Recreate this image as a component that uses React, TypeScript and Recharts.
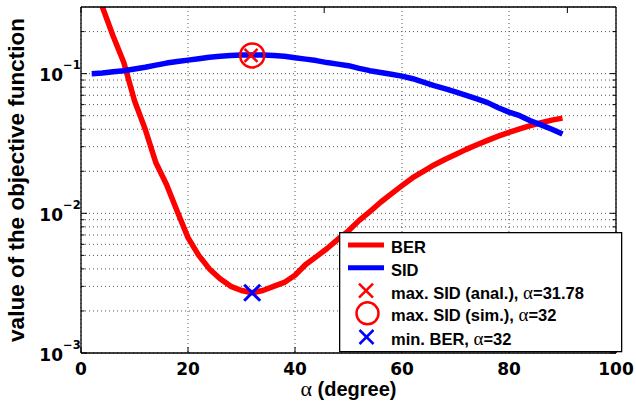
import { ComposedChart, Line, Scatter, XAxis, YAxis, CartesianGrid, Legend, Label } from "recharts";

const ALPHA = [
  2, 4, 6, 8, 10, 12, 14, 16, 18, 20, 22, 24, 26, 28, 30, 32, 34, 36, 38, 40, 42, 44, 46,
  48, 50, 52, 54, 56, 58, 60, 62, 64, 66, 68, 70, 72, 74, 76, 78, 80, 82, 84, 86, 88, 90,
];

const BER = [
  0.46, 0.3, 0.186, 0.12, 0.064, 0.04, 0.023, 0.016, 0.0103, 0.0067, 0.005, 0.004, 0.0034,
  0.003, 0.0028, 0.0027, 0.0028, 0.003, 0.0032, 0.0036, 0.0043, 0.0049, 0.0056, 0.0065,
  0.0075, 0.0089, 0.0103, 0.012, 0.0138, 0.0158, 0.018, 0.02, 0.0222, 0.0243, 0.0264,
  0.0287, 0.031, 0.0333, 0.0357, 0.038, 0.0402, 0.0424, 0.0445, 0.0465, 0.048,
];

const SID = [
  0.1, 0.101, 0.103, 0.105, 0.108, 0.111, 0.115, 0.119, 0.122, 0.125, 0.128, 0.131, 0.133,
  0.135, 0.136, 0.136, 0.136, 0.135, 0.133, 0.13, 0.127, 0.124, 0.12, 0.117, 0.114, 0.109,
  0.105, 0.102, 0.099, 0.096, 0.092, 0.087, 0.082, 0.078, 0.074, 0.07, 0.066, 0.062, 0.057,
  0.053, 0.05, 0.046, 0.043, 0.04, 0.037,
];

const X_TICKS = [0, 20, 40, 60, 80, 100];
const Y_MAJOR = [0.001, 0.01, 0.1];
const Y_TICKS = [
  0.001, 0.002, 0.003, 0.004, 0.005, 0.006, 0.007, 0.008, 0.009,
  0.01, 0.02, 0.03, 0.04, 0.05, 0.06, 0.07, 0.08, 0.09,
  0.1, 0.2,
];

const MAX_SID_ANAL = [{ alpha: 31.78, value: 0.135 }];
const MAX_SID_SIM = [{ alpha: 32, value: 0.135 }];
const MIN_BER = [{ alpha: 32, value: 0.0027 }];

// [text before alpha, text after alpha]
const LEGEND_LABELS: [string, string][] = [
  ["BER", ""],
  ["SID", ""],
  ["max. SID (anal.), ", "=31.78"],
  ["max. SID (sim.), ", "=32"],
  ["min. BER, ", "=32"],
];

const RED = "#ff0000";
const BLUE = "#0000ff";
const TICK_FONT = "'DejaVu Sans', sans-serif";
const LABEL_FONT = "'Liberation Sans', Arial, sans-serif";
const GREEK_FONT = "'Liberation Serif', serif";

const rows = ALPHA.map((a, i) => ({ alpha: a, ber: BER[i], sid: SID[i] }));

function Cross({ cx, cy, color, half, w }: { cx: number; cy: number; color: string; half: number; w: number }) {
  return (
    <g stroke={color} strokeWidth={w}>
      <line x1={cx - half} y1={cy - half} x2={cx + half} y2={cy + half} />
      <line x1={cx - half} y1={cy + half} x2={cx + half} y2={cy - half} />
    </g>
  );
}

function LeftTick(props: any) {
  const { x, y, payload } = props;
  const major = Y_MAJOR.includes(payload.value);
  const exp = Math.round(Math.log10(payload.value));
  return (
    <g>
      <line x1={x} y1={y} x2={x + (major ? 6 : 3.5)} y2={y} stroke="#000" />
      {major && (
        <text fontFamily={TICK_FONT} fontWeight="bold" fill="#000">
          <tspan x={x - 18} y={y + 7.5} fontSize={17} textAnchor="end">10</tspan>
          <tspan x={x - 18} y={y - 4.5} fontSize={11.5}>{"\u2212" + Math.abs(exp)}</tspan>
        </text>
      )}
    </g>
  );
}

function RightTick(props: any) {
  const { x, y, payload } = props;
  const major = Y_MAJOR.includes(payload.value);
  return <line x1={x} y1={y} x2={x - (major ? 6 : 3.5)} y2={y} stroke="#000" />;
}

function BottomTick(props: any) {
  const { x, y, payload } = props;
  return (
    <g>
      <line x1={x} y1={y} x2={x} y2={y - 6} stroke="#000" />
      <text x={x} y={y + 22} textAnchor="middle" fontFamily={TICK_FONT} fontWeight="bold" fontSize={17} fill="#000">
        {payload.value}
      </text>
    </g>
  );
}

function TopTick(props: any) {
  const { x, y } = props;
  return <line x1={x} y1={y} x2={x} y2={y + 6} stroke="#000" />;
}

function XLabel(props: any) {
  const vb = props.viewBox || { x: 81, y: 353, width: 535, height: 49 };
  return (
    <text x={vb.x + vb.width / 2} y={vb.y + 43} textAnchor="middle" fill="#000">
      <tspan fontFamily={GREEK_FONT} fontSize={22}>{"\u03b1"}</tspan>
      <tspan fontFamily={LABEL_FONT} fontWeight="bold" fontSize={20}>{" (degree)"}</tspan>
    </text>
  );
}

function YLabel(props: any) {
  const vb = props.viewBox || { x: 0, y: 7, width: 81, height: 346 };
  const cx = 23.5;
  const cy = vb.y + vb.height / 2;
  return (
    <text
      x={cx}
      y={cy}
      transform={`rotate(-90, ${cx}, ${cy})`}
      textAnchor="middle"
      fontFamily={LABEL_FONT}
      fontWeight="bold"
      fontSize={22.5}
      fill="#000"
    >
      value of the objective function
    </text>
  );
}

function LegendBox() {
  const rowY = [13, 35.7, 58.7, 81.3, 105];
  return (
    <svg width={284} height={121} style={{ display: "block" }}>
      <rect x={0.65} y={0.65} width={282} height={119} fill="#fff" stroke="#000" strokeWidth={1.3} />
      <line x1={9} y1={rowY[0]} x2={45} y2={rowY[0]} stroke={RED} strokeWidth={5} />
      <line x1={9} y1={rowY[1]} x2={45} y2={rowY[1]} stroke={BLUE} strokeWidth={5} />
      <Cross cx={27} cy={rowY[2]} color={RED} half={7} w={2.5} />
      <circle cx={28.5} cy={rowY[3]} r={11} fill="none" stroke={RED} strokeWidth={2.5} />
      <Cross cx={27.5} cy={rowY[4]} color={BLUE} half={7} w={2.5} />
      {LEGEND_LABELS.map(([pre, post], i) => (
        <text
          key={i}
          x={52}
          y={rowY[i] + 8}
          fill="#000"
          fontFamily={LABEL_FONT}
          fontWeight="bold"
          fontSize={16.5}
          style={{ whiteSpace: "pre" }}
        >
          {pre}
          {post && <tspan fontFamily={GREEK_FONT} fontWeight="normal" fontSize={19}>{"\u03b1"}</tspan>}
          {post}
        </text>
      ))}
    </svg>
  );
}

export default function App() {
  return (
    <div style={{ position: "absolute", left: 0, top: 0, background: "#fff" }}>
      <ComposedChart width={636} height={402} data={rows} margin={{ top: 6, right: 19, bottom: 0, left: 0 }}>
        <CartesianGrid stroke="#555" strokeDasharray="1 3" />
        <XAxis
          dataKey="alpha"
          type="number"
          domain={[0, 100]}
          ticks={X_TICKS}
          interval={0}
          height={49}
          tickSize={0}
          tickMargin={0}
          tick={<BottomTick />}
          axisLine={{ stroke: "#000", strokeWidth: 1.3 }}
        >
          <Label content={<XLabel />} />
        </XAxis>
        <XAxis
          xAxisId="top"
          orientation="top"
          type="number"
          domain={[0, 100]}
          ticks={X_TICKS}
          interval={0}
          height={1}
          tickSize={0}
          tickMargin={0}
          tick={<TopTick />}
          axisLine={{ stroke: "#000", strokeWidth: 1.3 }}
        />
        <YAxis
          scale="log"
          type="number"
          domain={[0.001, 0.3]}
          allowDataOverflow
          ticks={Y_TICKS}
          interval={0}
          width={81}
          tickSize={0}
          tickMargin={0}
          tick={<LeftTick />}
          axisLine={{ stroke: "#000", strokeWidth: 1.3 }}
        >
          <Label content={<YLabel />} />
        </YAxis>
        <YAxis
          yAxisId="right"
          orientation="right"
          scale="log"
          type="number"
          domain={[0.001, 0.3]}
          allowDataOverflow
          ticks={Y_TICKS}
          interval={0}
          width={1}
          tickSize={0}
          tickMargin={0}
          tick={<RightTick />}
          axisLine={{ stroke: "#000", strokeWidth: 1.3 }}
        />
        <Line dataKey="ber" stroke={RED} strokeWidth={5.5} strokeLinejoin="round" dot={false} isAnimationActive={false} />
        <Line dataKey="sid" stroke={BLUE} strokeWidth={5.5} strokeLinejoin="round" dot={false} isAnimationActive={false} />
        <Scatter
          data={MAX_SID_ANAL}
          dataKey="value"
          isAnimationActive={false}
          shape={(p: any) => <Cross cx={p.cx} cy={p.cy} color={RED} half={6.5} w={2.5} />}
        />
        <Scatter
          data={MAX_SID_SIM}
          dataKey="value"
          isAnimationActive={false}
          shape={(p: any) => <circle cx={p.cx} cy={p.cy} r={12} fill="none" stroke={RED} strokeWidth={2.5} />}
        />
        <Scatter
          data={MIN_BER}
          dataKey="value"
          isAnimationActive={false}
          shape={(p: any) => <Cross cx={p.cx} cy={p.cy} color={BLUE} half={8} w={3} />}
        />
        <Legend
          layout="vertical"
          align="center"
          verticalAlign="middle"
          content={<LegendBox />}
          wrapperStyle={{ left: 339, top: 232, width: 284, height: 121 }}
        />
      </ComposedChart>
    </div>
  );
}
